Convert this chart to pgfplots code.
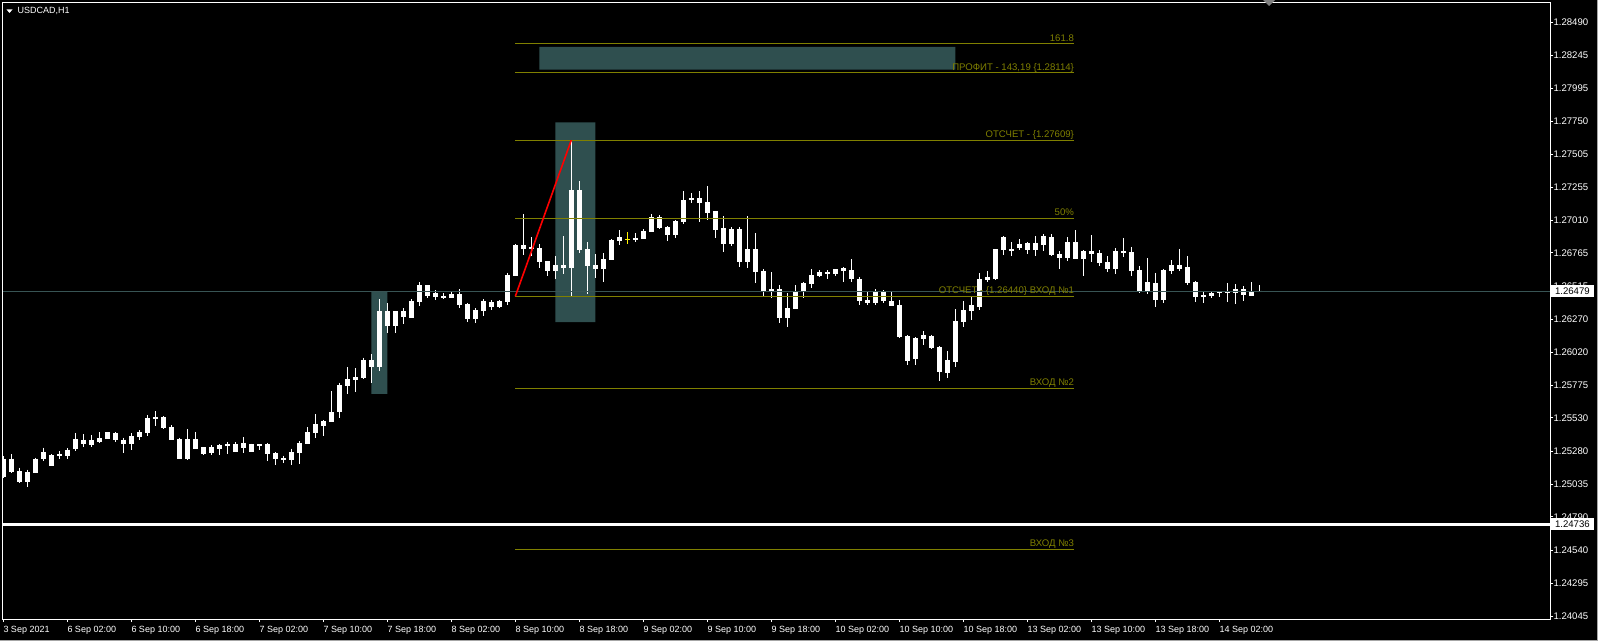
\documentclass[border=0pt]{standalone}
\usepackage{pgfplots}
\usepackage{pgfplotstable}
\pgfplotsset{compat=1.18}
\usepackage{fontspec}
\setmainfont{Liberation Sans}

\definecolor{mtolive}{RGB}{128,128,0}
\definecolor{mtslate}{RGB}{47,79,79}
\definecolor{bidline}{RGB}{56,84,84}

% USDCAD H1 candles: bar index, high, body top, body bottom, low
\pgfplotstableread{
i hi top bot lo
0 1.25244 1.25226 1.25089 1.25080
1 1.25259 1.25226 1.25124 1.25119
2 1.25159 1.25131 1.25051 1.25044
3 1.25144 1.25124 1.25051 1.25014
4 1.25234 1.25226 1.25119 1.25119
5 1.25309 1.25274 1.25221 1.25206
6 1.25259 1.25251 1.25171 1.25171
7 1.25281 1.25259 1.25249 1.25226
8 1.25304 1.25294 1.25244 1.25224
9 1.25419 1.25371 1.25296 1.25281
10 1.25409 1.25369 1.25334 1.25314
11 1.25401 1.25364 1.25326 1.25314
12 1.25424 1.25379 1.25349 1.25344
13 1.25424 1.25424 1.25371 1.25371
14 1.25424 1.25414 1.25364 1.25349
15 1.25384 1.25369 1.25334 1.25269
16 1.25414 1.25396 1.25334 1.25289
17 1.25439 1.25424 1.25386 1.25364
18 1.25554 1.25529 1.25419 1.25396
19 1.25581 1.25536 1.25524 1.25471
20 1.25544 1.25536 1.25454 1.25449
21 1.25474 1.25461 1.25364 1.25364
22 1.25384 1.25371 1.25221 1.25221
23 1.25446 1.25371 1.25221 1.25214
24 1.25426 1.25371 1.25296 1.25296
25 1.25311 1.25311 1.25261 1.25254
26 1.25326 1.25311 1.25266 1.25254
27 1.25334 1.25326 1.25299 1.25254
28 1.25351 1.25334 1.25324 1.25261
29 1.25349 1.25334 1.25274 1.25274
30 1.25386 1.25344 1.25306 1.25269
31 1.25339 1.25334 1.25274 1.25274
32 1.25334 1.25334 1.25321 1.25291
33 1.25344 1.25334 1.25261 1.25206
34 1.25274 1.25266 1.25221 1.25176
35 1.25249 1.25229 1.25214 1.25194
36 1.25301 1.25274 1.25214 1.25176
37 1.25356 1.25344 1.25269 1.25186
38 1.25461 1.25424 1.25336 1.25336
39 1.25559 1.25486 1.25419 1.25381
40 1.25512 1.25505 1.25470 1.25395
41 1.25730 1.25572 1.25497 1.25497
42 1.25795 1.25775 1.25572 1.25530
43 1.25910 1.25820 1.25767 1.25707
44 1.25902 1.25835 1.25812 1.25722
45 1.25982 1.25962 1.25827 1.25820
46 1.26007 1.25962 1.25910 1.25790
47 1.26420 1.26330 1.25910 1.25880
48 1.26390 1.26330 1.26220 1.26165
49 1.26330 1.26330 1.26220 1.26165
50 1.26350 1.26330 1.26285 1.26232
51 1.26420 1.26405 1.26277 1.26277
52 1.26547 1.26525 1.26397 1.26367
53 1.26525 1.26525 1.26442 1.26427
54 1.26487 1.26465 1.26435 1.26412
55 1.26465 1.26442 1.26427 1.26420
56 1.26480 1.26457 1.26427 1.26427
57 1.26495 1.26457 1.26375 1.26352
58 1.26390 1.26382 1.26270 1.26247
59 1.26352 1.26337 1.26270 1.26240
60 1.26420 1.26405 1.26330 1.26292
61 1.26412 1.26397 1.26360 1.26337
62 1.26412 1.26405 1.26360 1.26352
63 1.26615 1.26600 1.26397 1.26375
64 1.26830 1.26822 1.26592 1.26592
65 1.27055 1.26822 1.26792 1.26747
66 1.26882 1.26807 1.26792 1.26740
67 1.26830 1.26800 1.26695 1.26652
68 1.26702 1.26702 1.26627 1.26590
69 1.26740 1.26672 1.26627 1.26567
70 1.26890 1.26672 1.26650 1.26605
71 1.27609 1.27235 1.26652 1.26440
72 1.27302 1.27235 1.26785 1.26765
73 1.26845 1.26792 1.26665 1.26455
74 1.26755 1.26672 1.26642 1.26575
75 1.26762 1.26717 1.26642 1.26545
76 1.26867 1.26860 1.26710 1.26710
77 1.26935 1.26882 1.26852 1.26822
78 1.26920 1.26867 1.26860 1.26830
79 1.26912 1.26875 1.26860 1.26845
80 1.26942 1.26927 1.26867 1.26867
81 1.27055 1.27032 1.26920 1.26920
82 1.27047 1.27032 1.26950 1.26942
83 1.26965 1.26957 1.26897 1.26852
84 1.27010 1.27002 1.26897 1.26875
85 1.27227 1.27160 1.26995 1.26980
86 1.27212 1.27175 1.27160 1.27137
87 1.27227 1.27175 1.27137 1.26995
88 1.27265 1.27145 1.27062 1.27010
89 1.27077 1.27077 1.26935 1.26875
90 1.27041 1.26951 1.26831 1.26771
91 1.26958 1.26943 1.26831 1.26816
92 1.26958 1.26943 1.26696 1.26658
93 1.27041 1.26793 1.26696 1.26651
94 1.26913 1.26793 1.26621 1.26538
95 1.26643 1.26628 1.26478 1.26441
96 1.26621 1.26493 1.26478 1.26426
97 1.26523 1.26493 1.26276 1.26238
98 1.26463 1.26351 1.26276 1.26208
99 1.26523 1.26478 1.26343 1.26343
100 1.26546 1.26538 1.26478 1.26426
101 1.26643 1.26598 1.26531 1.26501
102 1.26636 1.26621 1.26591 1.26583
103 1.26636 1.26621 1.26606 1.26568
104 1.26643 1.26643 1.26606 1.26591
105 1.26658 1.26651 1.26628 1.26546
106 1.26718 1.26636 1.26568 1.26546
107 1.26583 1.26568 1.26403 1.26373
108 1.26471 1.26411 1.26388 1.26373
109 1.26493 1.26471 1.26388 1.26373
110 1.26486 1.26471 1.26403 1.26388
111 1.26478 1.26403 1.26366 1.26366
112 1.26411 1.26373 1.26133 1.26126
113 1.26148 1.26141 1.25960 1.25930
114 1.26134 1.26126 1.25969 1.25924
115 1.26179 1.26149 1.26119 1.26074
116 1.26154 1.26146 1.26051 1.26044
117 1.26066 1.26059 1.25871 1.25804
118 1.26029 1.25961 1.25864 1.25826
119 1.26344 1.26254 1.25946 1.25909
120 1.26404 1.26336 1.26246 1.26209
121 1.26434 1.26374 1.26329 1.26261
122 1.26614 1.26569 1.26359 1.26336
123 1.26629 1.26584 1.26561 1.26546
124 1.26794 1.26794 1.26569 1.26561
125 1.26891 1.26884 1.26786 1.26749
126 1.26846 1.26794 1.26779 1.26741
127 1.26869 1.26831 1.26801 1.26786
128 1.26846 1.26839 1.26786 1.26756
129 1.26891 1.26839 1.26786 1.26741
130 1.26906 1.26891 1.26824 1.26779
131 1.26906 1.26884 1.26749 1.26741
132 1.26779 1.26756 1.26726 1.26644
133 1.26884 1.26846 1.26726 1.26704
134 1.26936 1.26846 1.26719 1.26719
135 1.26786 1.26779 1.26719 1.26591
136 1.26899 1.26779 1.26756 1.26696
137 1.26786 1.26764 1.26689 1.26666
138 1.26741 1.26696 1.26644 1.26621
139 1.26801 1.26779 1.26644 1.26606
140 1.26877 1.26780 1.26765 1.26735
141 1.26810 1.26772 1.26630 1.26592
142 1.26667 1.26637 1.26480 1.26465
143 1.26727 1.26547 1.26472 1.26457
144 1.26615 1.26540 1.26412 1.26360
145 1.26645 1.26637 1.26412 1.26390
146 1.26712 1.26675 1.26630 1.26607
147 1.26795 1.26675 1.26645 1.26630
148 1.26742 1.26660 1.26540 1.26525
149 1.26555 1.26547 1.26435 1.26397
150 1.26472 1.26450 1.26435 1.26390
151 1.26472 1.26465 1.26442 1.26427
152 1.26480 1.26480 1.26465 1.26435
153 1.26540 1.26472 1.26465 1.26397
154 1.26532 1.26495 1.26465 1.26382
155 1.26517 1.26495 1.26450 1.26405
156 1.26547 1.26480 1.26442 1.26442
157 1.26525 1.26483 1.26475 1.26475
}\candles

\begin{document}
\begin{tikzpicture}
\fill[black] (0pt,0pt) rectangle (1598pt,641pt);
\useasboundingbox (0pt,0pt) rectangle (1598pt,641pt);
\begin{axis}[
  at={(2.7pt,22pt)}, anchor=south west, scale only axis,
  width=1547.6pt, height=616pt,
  xmin=-0.075, xmax=193.375,
  ymin=1.24026, ymax=1.28635,
  axis line style={draw=none},
  tick align=outside, major tick length=3pt,
  tick style={white, line width=1pt},
  xtick pos=left, ytick pos=right,
  yticklabel pos=right,
  xtick={0,8,16,24,32,40,48,56,64,72,80,88,96,104,112,120,128,136,144,152},
  xticklabels={3 Sep 2021, 6 Sep 02:00, 6 Sep 10:00, 6 Sep 18:00, 7 Sep 02:00,
    7 Sep 10:00, 7 Sep 18:00, 8 Sep 02:00, 8 Sep 10:00, 8 Sep 18:00,
    9 Sep 02:00, 9 Sep 10:00, 9 Sep 18:00, 10 Sep 02:00, 10 Sep 10:00,
    10 Sep 18:00, 13 Sep 02:00, 13 Sep 10:00, 13 Sep 18:00, 14 Sep 02:00},
  ytick={1.24045,1.24295,1.24540,1.24790,1.25035,1.25280,1.25530,1.25775,1.26020,
    1.26270,1.26515,1.26765,1.27010,1.27255,1.27505,1.27750,1.27995,1.28245,1.28490},
  yticklabels={1.24045,1.24295,1.24540,1.24790,1.25035,1.25280,1.25530,1.25775,1.26020,
    1.26270,1.26515,1.26765,1.27010,1.27255,1.27505,1.27750,1.27995,1.28245,1.28490},
  every tick label/.append style={text=white, inner sep=0pt},
  xticklabel style={anchor=north west, yshift=-4pt, font=\fontsize{9}{10}\selectfont},
  yticklabel style={anchor=west, font=\fontsize{9.6}{10}\selectfont},
]
% rectangles in the background
\addplot[fill=mtslate, draw=none] coordinates {(46,1.25710) (48,1.25710) (48,1.26478) (46,1.26478) (46,1.25710)};
\addplot[fill=mtslate, draw=none] coordinates {(69,1.26248) (74,1.26248) (74,1.27742) (69,1.27742) (69,1.26248)};
\addplot[fill=mtslate, draw=none] coordinates {(67,1.28136) (119,1.28136) (119,1.28306) (67,1.28306) (67,1.28136)};

% wicks
\addplot[draw=none, mark=none, error bars/.cd, y dir=minus, y explicit, error mark=none,
  error bar style={draw=white, line width=1pt}]
  table[x=i, y=hi, y error minus expr=\thisrow{hi}-\thisrow{lo}] {\candles};
% bodies
\addplot[draw=none, mark=none, error bars/.cd, y dir=minus, y explicit, error mark=none,
  error bar style={draw=white, line width=5pt}]
  table[x=i, y=top, y error minus expr=\thisrow{top}-\thisrow{bot}] {\candles};
% doji highlighted in yellow
\addplot[draw=none, mark=none, error bars/.cd, y dir=minus, y explicit, error mark=none,
  error bar style={draw=yellow, line width=1pt}]
  coordinates {(78,1.26920) -= (0,0.00090)};
\addplot[draw=none, mark=none, error bars/.cd, y dir=minus, y explicit, error mark=none,
  error bar style={draw=yellow, line width=5pt}]
  coordinates {(78,1.26867) -= (0,0.00007)};

% fibo levels
\addplot[mtolive, line width=1pt] coordinates {(64,1.28331) (133.85,1.28331)};
\addplot[mtolive, line width=1pt] coordinates {(64,1.28114) (133.85,1.28114)};
\addplot[mtolive, line width=1pt] coordinates {(64,1.27609) (133.85,1.27609)};
\addplot[mtolive, line width=1pt] coordinates {(64,1.27025) (133.85,1.27025)};
\addplot[mtolive, line width=1pt] coordinates {(64,1.26440) (133.85,1.26440)};
\addplot[mtolive, line width=1pt] coordinates {(64,1.25752) (133.85,1.25752)};
\addplot[mtolive, line width=1pt] coordinates {(64,1.24549) (133.85,1.24549)};

% bid line and level line
\addplot[bidline, line width=1pt] coordinates {(-1,1.26479) (200,1.26479)};
\addplot[white, line width=3pt] coordinates {(-1,1.24736) (200,1.24736)};

% trend line
\addplot[red, line width=1.6pt] coordinates {(64,1.26440) (71,1.27609)};

\begin{scope}[every node/.style={font=\fontsize{9.6}{10}\selectfont, text=mtolive, inner sep=0pt, anchor=base east, yshift=2.5pt}]
\node at (axis cs:133.85,1.28331) {161.8};
\node at (axis cs:133.85,1.28114) {ПРОФИТ - 143,19 \{1.28114\}};
\node at (axis cs:133.85,1.27609) {ОТСЧЕТ - \{1.27609\}};
\node at (axis cs:133.85,1.27025) {50\%};
\node at (axis cs:133.85,1.26440) {ОТСЧЕТ - \{1.26440\} ВХОД №1};
\node at (axis cs:133.85,1.25752) {ВХОД №2};
\node at (axis cs:133.85,1.24549) {ВХОД №3};
\end{scope}

\coordinate (bidlbl) at (axis cs:193.375,1.26479);
\coordinate (lvllbl) at (axis cs:193.375,1.24736);
\end{axis}
\draw[white, line width=1pt] (current axis.south west) rectangle (current axis.north east);
\begin{scope}[every node/.style={font=\fontsize{9.6}{10}\selectfont, fill=white, text=black, anchor=west, inner xsep=4.5pt, inner ysep=0pt, minimum height=12pt}]
\node at (bidlbl) {1.26479};
\node at (lvllbl) {1.24736};
\end{scope}
% chart title
\fill[white] (6.5pt,631.5pt) -- (12.5pt,631.5pt) -- (9.5pt,628pt) -- cycle;
\node[font=\fontsize{9}{10}\selectfont, text=white, inner sep=0pt, anchor=west] at (17.5pt,630.5pt) {USDCAD,H1};
% chart shift marker
\fill[gray] (1263pt,641pt) -- (1275pt,641pt) -- (1269pt,635pt) -- cycle;
% window border
\draw[gray!70, line width=1pt] (0pt,0.5pt) -- (1597pt,0.5pt) -- (1597pt,641pt);
\end{tikzpicture}
\end{document}
